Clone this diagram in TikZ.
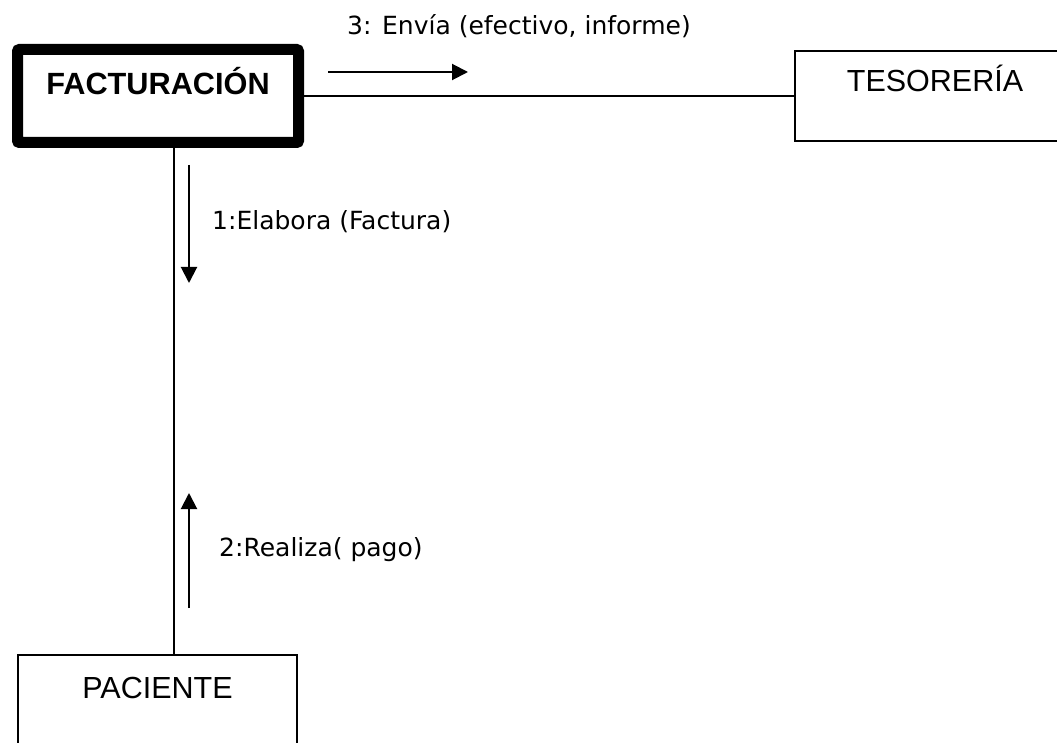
\documentclass[tikz,border=0pt]{standalone}
\usepackage{fontspec}
\setmainfont{Liberation Sans}
\newfontfamily\msgfont{DejaVu Sans}
\usetikzlibrary{arrows.meta}

\begin{document}
\begin{tikzpicture}[x=1pt,y=-1pt,
  box/.style={draw,line width=2pt,inner xsep=0pt,minimum width=280pt,font=\fontsize{30.5}{36}\selectfont},
  msg/.style={line width=2pt,-{Triangle[width=16pt,length=16pt]}},
  lbl/.style={anchor=base west,inner sep=0pt,font=\msgfont\fontsize{25}{30}\selectfont}]
  \useasboundingbox (0,0) rectangle (1057,743);
  % objects
  \node[box,line width=11pt,rounded corners=2pt,minimum width=281pt,font=\bfseries\fontsize{30.7}{36}\selectfont,
        text height=22pt,text depth=24pt,inner ysep=23.5pt] (fact) at (158,96) {FACTURACIÓN};
  \node[box,text height=22pt,text depth=30pt,inner ysep=19pt] (tes) at (935,96) {TESORERÍA};
  \node[box,minimum width=279pt,text height=22pt,text depth=41pt,inner ysep=21pt] (pac) at (157.5,707.5) {PACIENTE};
  % links
  \draw[line width=2pt] (fact.east) -- (tes.west);
  \draw[line width=2pt] ([xshift=16pt]fact.south) -- ([xshift=16pt]fact.south |- pac.north);
  % messages
  \coordinate (m1a) at (189,165);
  \coordinate (m1b) at (189,283);
  \draw[msg] (m1a) -- (m1b);
  \node[lbl] (l1) at (212,230) {1:Elabora (Factura)};
  \coordinate (m2a) at (189,608);
  \coordinate (m2b) at (189,493);
  \draw[msg] (m2a) -- (m2b);
  \node[lbl] (l2) at (219,556) {2:Realiza( pago)};
  \coordinate (m3a) at (328,72);
  \coordinate (m3b) at (468,72);
  \draw[msg] (m3a) -- (m3b);
  \node[lbl] (l3) at (347,35) {3: Envía (efectivo, informe)};
\end{tikzpicture}
\end{document}
